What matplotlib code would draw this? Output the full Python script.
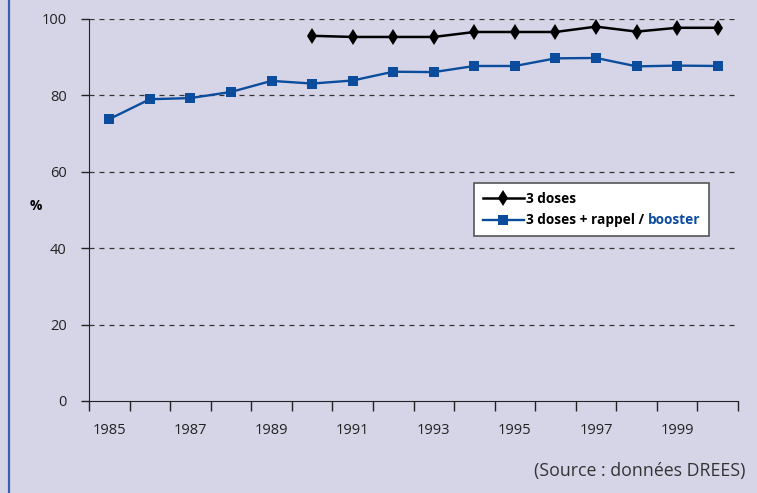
import numpy as np
import matplotlib
matplotlib.use("Agg")
import matplotlib.pyplot as plt
from matplotlib.lines import Line2D

plt.rcParams["font.family"] = ["Open Sans", "DejaVu Sans"]

years = list(range(1985, 2001))
tick_labels = [str(y) if (y - 1985) % 2 == 0 else "" for y in years]

# 3 doses : de 1990 a 2000
doses3_years = list(range(1990, 2001))
doses3 = [95.6, 95.3, 95.3, 95.3, 96.6, 96.6, 96.6, 98.0, 96.7, 97.7, 97.7]

# 3 doses + rappel : de 1985 a 2000
rappel = [73.8, 79.0, 79.3, 80.9, 83.8, 83.1, 83.9, 86.2, 86.1, 87.7,
          87.7, 89.7, 89.8, 87.6, 87.8, 87.7]

bg = "#d6d5e8"
blue = "#0b4c9c"
W, H = 757, 493

fig = plt.figure(figsize=(W / 100, H / 100), dpi=100, facecolor=bg)
ax = fig.add_axes([89 / W, 1 - 401 / H, (738 - 89) / W, (401 - 19) / H])
ax.set_facecolor(bg)

# category axis: index positions, ticks between categories
x_all = np.arange(len(years))
x_d3 = np.array([years.index(y) for y in doses3_years])

ax.plot(x_d3, doses3, color="black", lw=1.8, marker="d", ms=8.5,
        markeredgewidth=0, label="3 doses")
ax.plot(x_all, rappel, color=blue, lw=1.7, marker="s", ms=6.5,
        markeredgewidth=0, label="3 doses + rappel / booster")

ax.set_xlim(-0.5, len(years) - 0.5)
ax.set_ylim(0, 100)
ax.set_yticks([0, 20, 40, 60, 80, 100])
ax.set_xticks(np.arange(-0.5, len(years), 1.0))
ax.set_xticklabels([])
ax.set_xticks(x_all, minor=True)
ax.set_xticklabels(tick_labels, minor=True)
ax.tick_params(axis="x", which="major", length=7, width=1, direction="out", color="#222222")
ax.tick_params(axis="x", which="minor", length=0, pad=16, labelsize=10.5, labelcolor="#222222")
ax.tick_params(axis="y", length=6, width=1, direction="out", pad=10, labelsize=10.5,
               labelcolor="#222222", color="#222222")

for y in [20, 40, 60, 80, 100]:
    ax.axhline(y, color="#333333", lw=0.9, ls=(0, (4, 4)), zorder=0)

for s in ["top", "right"]:
    ax.spines[s].set_visible(False)
ax.spines["left"].set_color("#222222")
ax.spines["bottom"].set_color("#222222")

ax.set_ylabel("%", rotation=0, fontsize=10, fontweight="bold", va="center", ha="center")
ax.yaxis.set_label_coords((35.5 - 89) / 649, (401 - 206) / 382)

leg_size = 9.8
leg = ax.legend(loc="upper left", bbox_to_anchor=((474 - 89) / 649, (401 - 183) / 382),
                frameon=True, fancybox=False, edgecolor="#555555", framealpha=1,
                prop={"size": leg_size, "weight": "bold"}, handlelength=3.0, handletextpad=0.2,
                borderpad=0.65, labelspacing=0.55, borderaxespad=0)
leg.get_frame().set_linewidth(1.2)

# second label: black part + "booster" in blue, drawn in place of the hidden label
fig.canvas.draw()
renderer = fig.canvas.get_renderer()
t2 = leg.get_texts()[1]
bb = t2.get_window_extent(renderer)
t2.set_visible(False)
yc = (bb.y0 + bb.y1) / 2 / H
part1 = fig.text(bb.x0 / W, yc, "3 doses + rappel / ", color="black",
                 fontsize=leg_size, fontweight="bold", va="center", ha="left")
b1 = part1.get_window_extent(renderer)
fig.text(b1.x1 / W, yc, "booster", color=blue,
         fontsize=leg_size, fontweight="bold", va="center", ha="left")

fig.text(745 / W, 1 - 471 / H, "(Source : données DREES)", ha="right", va="center",
         fontsize=12.8, color="#333333")

# blue border on the left
fig.add_artist(Line2D([9 / W, 9 / W], [0, 1], color="#3a5fb0", lw=1.6, transform=fig.transFigure))

fig.savefig("out.png", dpi=100, facecolor=bg)
